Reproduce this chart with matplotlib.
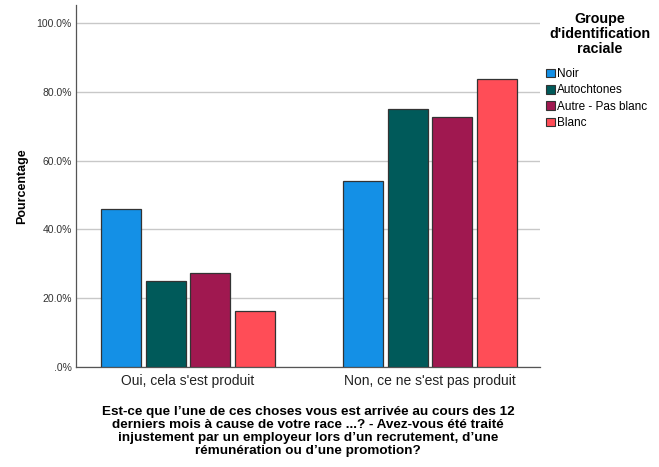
import numpy as np
import matplotlib.pyplot as plt
from matplotlib.patches import Patch

plt.rcParams['font.family'] = ['Liberation Sans', 'DejaVu Sans']

categories = ["Oui, cela s'est produit", "Non, ce ne s'est pas produit"]
groups = ["Noir", "Autochtones", "Autre - Pas blanc", "Blanc"]
colors = ["#1490e6", "#005a5a", "#a01850", "#ff4d57"]
values = {
    "Noir": [45.8, 54.2],
    "Autochtones": [25.0, 75.0],
    "Autre - Pas blanc": [27.3, 72.7],
    "Blanc": [16.2, 83.8],
}
yticks = [0, 20, 40, 60, 80, 100]
ytick_labels = [".0%", "20.0%", "40.0%", "60.0%", "80.0%", "100.0%"]

fig = plt.figure(figsize=(6.59, 4.67), dpi=100)
ax = fig.add_axes([0.1153, 0.2141, 0.7041, 0.775])

x = np.arange(len(categories))
width = 0.165
step = 0.184
for i, g in enumerate(groups):
    ax.bar(x + (i - 1.5) * step, values[g], width, color=colors[i],
           edgecolor='#333333', linewidth=0.9, zorder=3)

ax.set_xlim(-0.463, 1.455)
ax.set_ylim(0, 105.2)
ax.set_yticks(yticks)
ax.set_yticklabels(ytick_labels, fontsize=7.5, color='#333333')
ax.set_xticks(x)
ax.set_xticklabels(categories, fontsize=10, color='#222222')
ax.tick_params(axis='y', length=0, pad=3)
ax.tick_params(axis='x', length=0, pad=5)
ax.grid(axis='y', color='#c8c8c8', linewidth=1, zorder=0)
for s in ['top', 'right']:
    ax.spines[s].set_visible(False)
for s in ['left', 'bottom']:
    ax.spines[s].set_color('#555555')
    ax.spines[s].set_linewidth(0.9)

ax.set_ylabel("Pourcentage", fontsize=9, fontweight='bold', labelpad=6)
ax.set_xlabel("Est-ce que l\u2019une de ces choses vous est arrivée au cours des 12\n"
              "derniers mois à cause de votre race ...? - Avez-vous été traité\n"
              "injustement par un employeur lors d\u2019un recrutement, d\u2019une\n"
              "rémunération ou d\u2019une promotion?",
              fontsize=9.7, fontweight='bold', linespacing=1.1, labelpad=13)

fig.text(0.91, 0.975, "Groupe\nd'identification\nraciale", ha='center', va='top',
         fontsize=10.3, fontweight='bold', linespacing=1.1)
handles = [Patch(facecolor=c, edgecolor='#333333', linewidth=0.8) for c in colors]
fig.legend(handles, groups, loc='upper left', bbox_to_anchor=(0.821, 0.864),
           frameon=False, fontsize=8.5, handlelength=0.75, handleheight=0.75,
           handletextpad=0.2, labelspacing=0.36, borderaxespad=0)

fig.savefig("out.png", dpi=100)
